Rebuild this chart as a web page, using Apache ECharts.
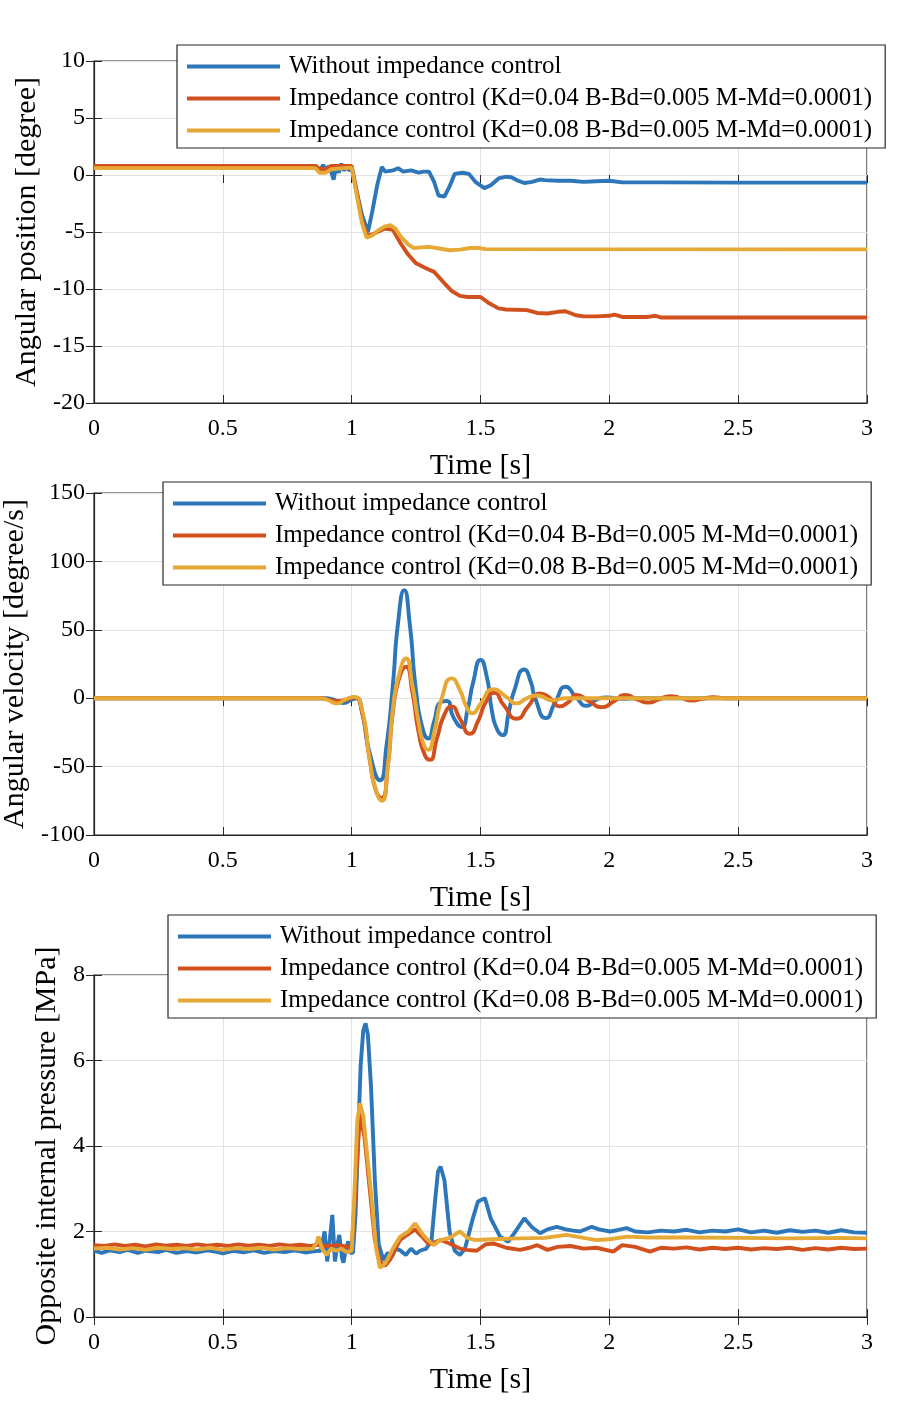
<!DOCTYPE html>
<html>
<head>
<meta charset="utf-8">
<script src="https://cdn.jsdelivr.net/npm/echarts@6/dist/echarts.min.js"></script>
<style>
  html, body { margin: 0; padding: 0; background: #fff; }
  #chart { width: 898px; height: 1407px; }
</style>
</head>
<body>
<div id="chart"></div>
<script>
// series names
var names = [
    'Without impedance control',
    'Impedance control (Kd=0.04 B-Bd=0.005 M-Md=0.0001)',
    'Impedance control (Kd=0.08 B-Bd=0.005 M-Md=0.0001)'
];
var colors = ['#2c76b9', '#d1501e', '#e6a936'];

// angular position [degree] vs time [s]
var posBlue = [[0,0.6],[0.86,0.6],[0.877,0.4],[0.89,0.9],[0.9,0.2],[0.91,0.8],[0.92,0.3],[0.93,-0.4],[0.94,0.8],[0.95,0.2],[0.96,1.0],[0.97,0.4],[0.98,0.7],[0.99,0.4],[1.0,0.6],[1.02,-1.5],[1.04,-3.5],[1.063,-5.0],[1.08,-3.2],[1.1,-0.8],[1.117,0.7],[1.13,0.3],[1.16,0.4],[1.18,0.6],[1.2,0.3],[1.23,0.4],[1.26,0.2],[1.28,0.3],[1.3,0.3],[1.32,-0.6],[1.337,-1.8],[1.36,-1.9],[1.38,-1.0],[1.4,0.1],[1.43,0.2],[1.455,0.1],[1.48,-0.6],[1.515,-1.15],[1.54,-0.9],[1.57,-0.3],[1.6,-0.15],[1.62,-0.2],[1.645,-0.5],[1.67,-0.7],[1.7,-0.6],[1.73,-0.4],[1.75,-0.45],[1.8,-0.5],[1.85,-0.5],[1.9,-0.6],[1.95,-0.55],[2.0,-0.5],[2.05,-0.65],[2.2,-0.65],[2.5,-0.67],[3,-0.67]];
var posRed = [[0,0.8],[0.86,0.8],[0.875,0.55],[0.9,0.5],[0.92,0.8],[1.0,0.8],[1.02,-1.5],[1.04,-4.0],[1.06,-5.3],[1.08,-5.2],[1.1,-5.0],[1.13,-4.7],[1.16,-4.8],[1.19,-6.0],[1.22,-7.0],[1.25,-7.75],[1.29,-8.2],[1.32,-8.5],[1.36,-9.5],[1.39,-10.2],[1.42,-10.6],[1.45,-10.7],[1.5,-10.7],[1.53,-11.2],[1.57,-11.7],[1.6,-11.8],[1.68,-11.85],[1.72,-12.1],[1.76,-12.15],[1.8,-12.0],[1.83,-11.95],[1.87,-12.3],[1.9,-12.4],[1.95,-12.4],[2.0,-12.35],[2.02,-12.25],[2.05,-12.45],[2.15,-12.45],[2.18,-12.35],[2.2,-12.5],[3,-12.5]];
var posYellow = [[0,0.6],[0.86,0.6],[0.875,0.2],[0.9,0.2],[0.92,0.5],[0.97,0.6],[1.0,0.65],[1.02,-1.8],[1.04,-4.2],[1.058,-5.5],[1.08,-5.3],[1.1,-4.9],[1.13,-4.5],[1.15,-4.4],[1.17,-4.7],[1.19,-5.4],[1.22,-6.1],[1.24,-6.4],[1.27,-6.35],[1.3,-6.3],[1.34,-6.45],[1.38,-6.6],[1.42,-6.55],[1.46,-6.4],[1.49,-6.4],[1.52,-6.5],[3,-6.52]];

// angular velocity [degree/s] vs time [s]
var velBlue = [[0,0],[0.9,0],[0.93,-1],[0.968,-3.5],[1.0,-1],[1.02,0],[1.04,-10],[1.07,-40],[1.11,-60],[1.135,-35],[1.16,10],[1.18,55],[1.204,79],[1.225,55],[1.25,5],[1.275,-22],[1.297,-29.5],[1.32,-17],[1.345,-3],[1.369,-2],[1.395,-14],[1.427,-21],[1.45,-8],[1.472,12],[1.5,28],[1.525,15],[1.545,-10],[1.565,-23],[1.586,-27],[1.61,-10],[1.63,5],[1.67,21],[1.695,12],[1.712,0],[1.754,-14.5],[1.79,-3],[1.831,8.4],[1.87,1],[1.912,-5.5],[1.95,-1],[1.99,0.5],[2.05,-0.5],[2.1,0],[3,0]];
var velRed = [[0,0],[0.88,0],[0.92,-1.5],[0.95,-2],[0.98,-1],[1.01,0.5],[1.04,-10],[1.07,-45],[1.095,-68],[1.117,-73],[1.14,-50],[1.16,-10],[1.185,15],[1.211,23],[1.235,5],[1.26,-25],[1.285,-42],[1.304,-45],[1.33,-30],[1.36,-12],[1.388,-6],[1.42,-15],[1.459,-26],[1.49,-17],[1.52,-3],[1.553,4],[1.59,-5],[1.64,-15],[1.685,-6],[1.731,3.5],[1.77,0],[1.808,-6],[1.84,-3],[1.873,2.3],[1.92,-2],[1.97,-6.5],[2.02,-2],[2.061,2.3],[2.11,-1],[2.151,-3.2],[2.19,-1],[2.235,1.5],[2.28,0],[2.32,-1.8],[2.36,-0.5],[2.403,0.8],[2.45,0],[3,0]];
var velYellow = [[0,0],[0.88,0],[0.91,-1.5],[0.942,-3.8],[0.975,-1],[1.01,1],[1.04,-8],[1.07,-45],[1.095,-68],[1.117,-75],[1.14,-50],[1.16,-8],[1.185,18],[1.211,29],[1.235,10],[1.26,-18],[1.28,-34],[1.297,-37.8],[1.32,-25],[1.35,0],[1.388,14.5],[1.42,6],[1.445,-6],[1.469,-11],[1.5,-4],[1.55,6.5],[1.6,1],[1.64,-3.8],[1.68,0],[1.72,2],[1.78,-1.5],[1.83,0],[3,0]];

// opposite internal pressure [MPa] vs time [s]
var presBlue = [[0,1.55],[0.03,1.5],[0.06,1.56],[0.1,1.52],[0.13,1.57],[0.17,1.5],[0.2,1.55],[0.25,1.52],[0.28,1.57],[0.32,1.5],[0.36,1.54],[0.4,1.51],[0.44,1.56],[0.48,1.52],[0.5,1.49],[0.54,1.55],[0.58,1.51],[0.62,1.56],[0.66,1.5],[0.7,1.54],[0.74,1.52],[0.78,1.56],[0.82,1.51],[0.86,1.54],[0.88,1.55],[0.895,2.0],[0.905,1.3],[0.915,1.8],[0.925,2.39],[0.935,1.3],[0.945,1.7],[0.952,1.92],[0.962,1.4],[0.968,1.27],[0.978,1.6],[0.987,1.77],[0.995,1.5],[1.005,1.5],[1.015,2.4],[1.025,4.2],[1.035,5.9],[1.045,6.7],[1.054,6.87],[1.063,6.6],[1.075,5.4],[1.09,3.2],[1.105,1.7],[1.123,1.33],[1.14,1.5],[1.155,1.4],[1.17,1.6],[1.188,1.56],[1.21,1.45],[1.23,1.6],[1.25,1.48],[1.265,1.55],[1.29,1.6],[1.31,1.8],[1.325,2.8],[1.335,3.4],[1.345,3.52],[1.36,3.2],[1.38,2.0],[1.4,1.55],[1.42,1.45],[1.44,1.6],[1.47,2.3],[1.49,2.7],[1.517,2.78],[1.54,2.3],[1.576,1.88],[1.607,1.76],[1.63,1.95],[1.67,2.31],[1.7,2.1],[1.731,1.96],[1.76,2.05],[1.796,2.11],[1.83,2.05],[1.86,2.02],[1.886,2.0],[1.932,2.11],[1.96,2.05],[2.003,2.0],[2.03,2.03],[2.067,2.08],[2.1,2.0],[2.15,1.98],[2.2,2.02],[2.25,2.0],[2.3,2.04],[2.35,1.98],[2.4,2.02],[2.45,2.0],[2.5,2.05],[2.55,1.98],[2.6,2.02],[2.65,1.97],[2.7,2.03],[2.75,1.99],[2.8,2.02],[2.85,1.97],[2.9,2.03],[2.95,1.98],[3,1.97]];
var presRed = [[0,1.68],[0.04,1.66],[0.08,1.7],[0.12,1.66],[0.16,1.69],[0.2,1.65],[0.24,1.7],[0.28,1.67],[0.32,1.69],[0.36,1.66],[0.4,1.7],[0.44,1.67],[0.48,1.69],[0.52,1.66],[0.56,1.7],[0.6,1.67],[0.64,1.69],[0.68,1.66],[0.72,1.7],[0.76,1.67],[0.8,1.69],[0.84,1.66],[0.87,1.69],[0.9,1.66],[0.95,1.68],[1.0,1.62],[1.005,1.6],[1.015,3.0],[1.032,4.76],[1.05,4.2],[1.07,3.0],[1.09,1.8],[1.11,1.3],[1.13,1.2],[1.15,1.35],[1.17,1.6],[1.188,1.8],[1.21,1.9],[1.246,2.05],[1.27,1.9],[1.3,1.7],[1.345,1.8],[1.38,1.72],[1.42,1.6],[1.446,1.57],[1.485,1.55],[1.52,1.7],[1.55,1.72],[1.6,1.62],[1.653,1.57],[1.69,1.62],[1.72,1.68],[1.76,1.57],[1.8,1.64],[1.85,1.66],[1.9,1.6],[1.95,1.62],[2.015,1.53],[2.05,1.68],[2.1,1.64],[2.158,1.53],[2.2,1.62],[2.25,1.6],[2.3,1.63],[2.35,1.58],[2.4,1.62],[2.45,1.59],[2.5,1.62],[2.55,1.58],[2.6,1.61],[2.65,1.59],[2.7,1.62],[2.75,1.57],[2.8,1.61],[2.85,1.58],[2.9,1.62],[2.95,1.59],[3,1.6]];
var presYellow = [[0,1.6],[0.05,1.62],[0.1,1.58],[0.15,1.61],[0.2,1.57],[0.25,1.62],[0.3,1.59],[0.35,1.61],[0.4,1.58],[0.45,1.62],[0.5,1.57],[0.55,1.61],[0.6,1.59],[0.65,1.62],[0.7,1.58],[0.75,1.61],[0.8,1.59],[0.85,1.6],[0.865,1.75],[0.871,1.88],[0.885,1.6],[0.903,1.45],[0.92,1.6],[0.94,1.55],[0.96,1.6],[0.98,1.52],[1.0,1.55],[1.01,2.8],[1.022,4.6],[1.032,5.0],[1.045,4.7],[1.06,3.8],[1.078,2.74],[1.095,1.6],[1.11,1.15],[1.13,1.25],[1.16,1.6],[1.188,1.88],[1.22,2.0],[1.246,2.19],[1.28,1.9],[1.317,1.68],[1.345,1.8],[1.38,1.85],[1.42,2.0],[1.45,1.85],[1.48,1.8],[1.55,1.82],[1.65,1.84],[1.75,1.85],[1.834,1.92],[1.9,1.85],[1.95,1.8],[2.0,1.82],[2.07,1.88],[2.15,1.86],[2.3,1.86],[2.5,1.85],[2.7,1.84],[2.9,1.85],[3,1.84]];

// axis ranges [min, max, interval]
var xRange = [0, 3, 0.5];
var yRanges = [[-20, 10, 5], [-100, 150, 50], [0, 8, 2]];
var yNames = ['Angular position [degree]', 'Angular velocity [degree/s]', 'Opposite internal pressure [MPa]'];
var yNameGaps = [46, 55, 24];
var gridTops = [61, 493, 975];
var legendPos = [[177, 45], [163, 482], [168, 915]];

var font = 'Liberation Serif';
var ink = '#262626';

var chart = echarts.init(document.getElementById('chart'));
var grids = [], xAxes = [], yAxes = [], legends = [], series = [];
var allData = [[posBlue, posRed, posYellow], [velBlue, velRed, velYellow], [presBlue, presRed, presYellow]];

for (var i = 0; i < 3; i++) {
    grids.push({left: 94, top: gridTops[i], width: 773, height: 342,
        outerBoundsMode: 'none', containLabel: false,
        show: true, borderColor: ink, borderWidth: 1.2, backgroundColor: '#fff'});
    // bottom x axis
    xAxes.push({
        type: 'value', gridIndex: i, position: 'bottom',
        min: xRange[0], max: xRange[1], interval: xRange[2],
        name: 'Time [s]', nameLocation: 'middle', nameGap: 48,
        nameTextStyle: {fontFamily: font, fontSize: 30, color: '#000'},
        axisLine: {show: true, onZero: false, lineStyle: {color: ink, width: 1.2}},
        axisTick: {inside: true, length: 8, lineStyle: {color: ink}},
        axisLabel: {fontFamily: font, fontSize: 24, color: '#000', margin: 14},
        splitLine: {show: true, lineStyle: {color: '#e3e3e3', width: 1}}
    });
    // top x axis, ticks only
    xAxes.push({
        type: 'value', gridIndex: i, position: 'top',
        min: xRange[0], max: xRange[1], interval: xRange[2],
        axisLine: {show: false},
        axisTick: {inside: true, length: 8, lineStyle: {color: ink}},
        axisLabel: {show: false}, splitLine: {show: false}
    });
    var yr = yRanges[i];
    yAxes.push({
        type: 'value', gridIndex: i, position: 'left',
        min: yr[0], max: yr[1], interval: yr[2],
        name: yNames[i], nameLocation: 'middle', nameGap: yNameGaps[i],
        nameTextStyle: {fontFamily: font, fontSize: 30, color: '#000'},
        axisLine: {show: true, onZero: false, lineStyle: {color: ink, width: 1.2}},
        axisTick: {show: true, inside: true, length: 8, lineStyle: {color: ink}},
        axisLabel: {fontFamily: font, fontSize: 24, color: '#000', margin: 9},
        splitLine: {show: true, lineStyle: {color: '#e3e3e3', width: 1}}
    });
    yAxes.push({
        type: 'value', gridIndex: i, position: 'right',
        min: yr[0], max: yr[1], interval: yr[2],
        axisLine: {show: false},
        axisTick: {show: true, inside: true, length: 8, lineStyle: {color: ink}},
        axisLabel: {show: false}, splitLine: {show: false}
    });
    legends.push({
        left: legendPos[i][0], top: legendPos[i][1],
        orient: 'vertical', selectedMode: false,
        data: names.map(function (n, k) {
            return {name: n, icon: 'rect', itemStyle: {color: colors[k]}};
        }),
        itemWidth: 93, itemHeight: 4, itemGap: 7,
        padding: [9, 13, 5, 10],
        backgroundColor: '#fff', borderColor: ink, borderWidth: 1.2, borderRadius: 0,
        textStyle: {fontFamily: font, fontSize: 25, color: '#000', lineHeight: 25, padding: [0, 0, 0, 4]},
        z: 10
    });
    for (var k = 0; k < 3; k++) {
        series.push({
            name: names[k], type: 'line',
            xAxisIndex: 2 * i, yAxisIndex: 2 * i,
            data: allData[i][k],
            symbol: 'none', showSymbol: false,
            smooth: i === 1 ? 0.6 : false,
            lineStyle: {width: 3.9, color: colors[k]},
            itemStyle: {color: colors[k]},
            z: 2 + k
        });
    }
}

chart.setOption({
    animation: false,
    textStyle: {fontFamily: font},
    grid: grids,
    xAxis: xAxes,
    yAxis: yAxes,
    legend: legends,
    series: series
});
</script>
</body>
</html>
